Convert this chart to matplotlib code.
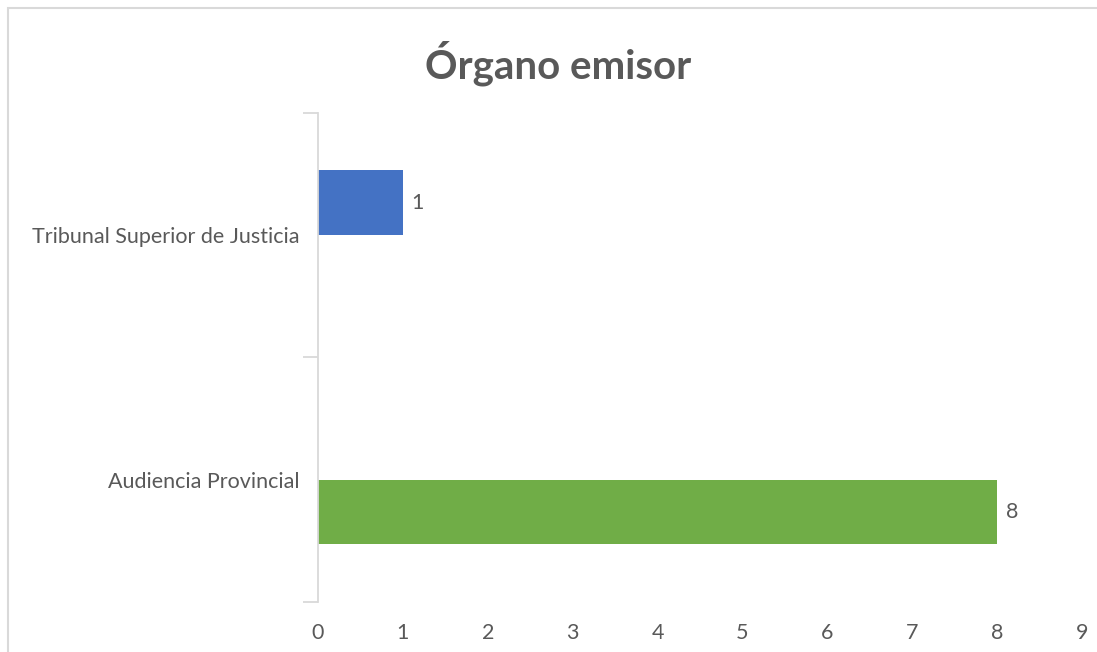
import matplotlib.pyplot as plt
from matplotlib.patches import Rectangle

categories = ['Audiencia Provincial', 'Tribunal Superior de Justicia']
values = [8, 1]
colors = ['#70AD47', '#4472C4']
# each category is its own series in the source chart, so the bars sit
# below / above the middle of their band
offsets = [-1, 0]

plt.rcParams['font.family'] = ['Lato', 'DejaVu Sans']
text_color = '#595959'
axis_color = '#D9D9D9'

fig = plt.figure(figsize=(10.97, 6.52), dpi=100)
ax = fig.add_axes([318 / 1097, 1 - 601.7 / 652, (1082 - 318) / 1097, (601.7 - 113) / 652])

h = 0.265
pos = list(range(len(categories)))
bars = ax.barh([p + o * h for p, o in zip(pos, offsets)], values, height=h,
               align='edge', color=colors)
for b, v in zip(bars, values):
    ax.text(b.get_width() + 0.1, b.get_y() + b.get_height() / 2, str(v),
            va='center', ha='left', fontsize=15.5, color=text_color)

ax.set_xlim(0, 9)
ax.set_ylim(-0.5, len(categories) - 0.5)
ax.set_xticks(range(10))
ax.set_yticks(pos)
ax.set_yticklabels(categories)
ax.set_yticks([p - 0.5 for p in range(len(categories) + 1)], minor=True)

for s in ('top', 'right', 'bottom'):
    ax.spines[s].set_visible(False)
ax.spines['left'].set_color(axis_color)
ax.spines['left'].set_linewidth(1.3)

ax.tick_params(axis='x', length=0, pad=15, labelsize=15.5, labelcolor=text_color)
ax.tick_params(axis='y', which='major', length=0, pad=13, labelsize=15.5, labelcolor=text_color)
ax.tick_params(axis='y', which='minor', length=11, width=1.3, color=axis_color)

fig.text(558 / 1097, 1 - 63 / 652, 'Órgano emisor', ha='center', va='center',
         fontsize=29, fontweight='bold', color=text_color)

# chart frame, cut off on the right and bottom like the screenshot
fig.patches.append(Rectangle((8 / 1097, -0.1), 1.2, 1 - 8 / 652 + 0.1,
                             transform=fig.transFigure, fill=False,
                             edgecolor=axis_color, linewidth=1.5))

fig.savefig('out.png', dpi=100)
